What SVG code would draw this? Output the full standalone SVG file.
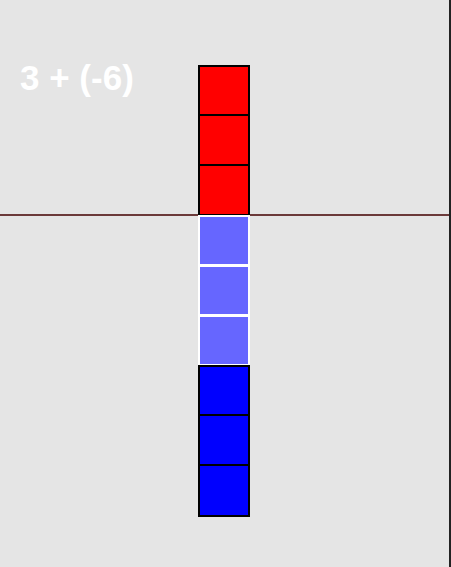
<svg xmlns="http://www.w3.org/2000/svg" width="451" height="567" viewBox="0 0 451 567">
<style>
.title{font-family:"Liberation Sans",Arial,sans-serif;font-weight:bold;font-size:35px;fill:#ffffff}
.pos{fill:#ff0000;stroke:#000;stroke-width:2}
.zero{fill:#6666ff;stroke:#ffffff;stroke-width:2}
.neg{fill:#0000ff;stroke:#000;stroke-width:2}
</style>
<rect x="0" y="0" width="451" height="567" fill="#e5e5e5"/>
<rect x="449" y="0" width="2" height="567" fill="#222222"/>
<g id="axis">
<line x1="0" y1="215" x2="449" y2="215" stroke="#6b3a3a" stroke-width="2"/>
</g>
<text class="title" x="20" y="90">3 + (-6)</text>
<g id="positive">
<rect class="pos" x="199" y="66" width="50" height="49"/>
<rect class="pos" x="199" y="115" width="50" height="50"/>
<rect class="pos" x="199" y="165" width="50" height="50"/>
</g>
<g id="zero-pairs">
<rect class="zero" x="199" y="216" width="50" height="49"/>
<rect class="zero" x="199" y="266" width="50" height="49"/>
<rect class="zero" x="199" y="316" width="50" height="49"/>
</g>
<g id="negative">
<rect class="neg" x="199" y="366" width="50" height="49"/>
<rect class="neg" x="199" y="415" width="50" height="50"/>
<rect class="neg" x="199" y="465" width="50" height="51"/>
</g>
</svg>
